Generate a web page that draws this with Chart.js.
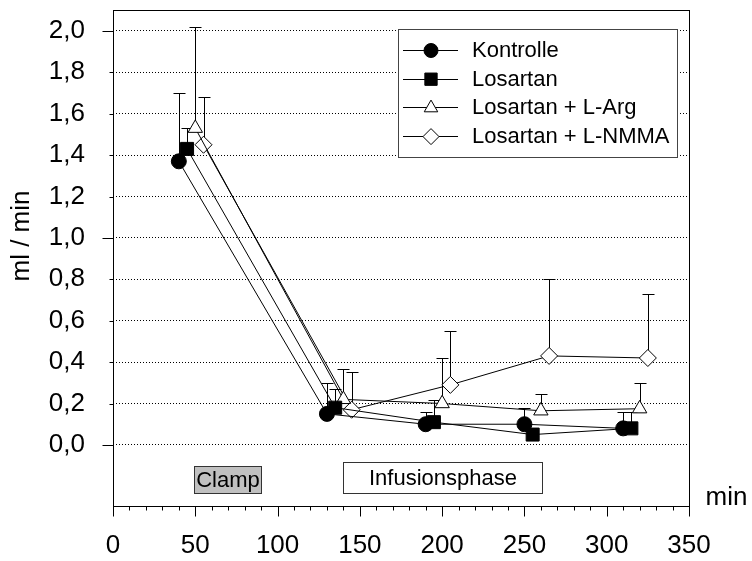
<!DOCTYPE html>
<html>
<head>
<meta charset="utf-8">
<script src="https://cdn.jsdelivr.net/npm/chart.js@4.4.1/dist/chart.umd.min.js"></script>
<style>
  body { margin: 0; background: #fff; }
  canvas { display: block; }
</style>
</head>
<body>
<canvas id="urineChart" width="752" height="561"></canvas>
<script>
// time points (min), shifted a bit per group so the markers don't overlap
const xKontrolle = [40, 130, 190, 250, 310];
const xLosartan = [45, 135, 195, 255, 315];
const xLArg = [50, 140, 200, 260, 320];
const xLNMMA = [55, 145, 205, 265, 325];

// mean values (ml / min)
const yKontrolle = [1.37, 0.15, 0.10, 0.10, 0.08];
const yLosartan = [1.43, 0.18, 0.11, 0.05, 0.08];
const yLArg = [1.53, 0.22, 0.20, 0.165, 0.175];
const yLNMMA = [1.45, 0.17, 0.29, 0.43, 0.42];

// upper error (SD)
const sdKontrolle = [0.33, 0.15, 0.06, 0.08, 0.08];
const sdLosartan = [0.10, 0.09, 0.105, 0, 0.08];
const sdLArg = [0.49, 0.145, 0.22, 0.08, 0.125];
const sdLNMMA = [0.23, 0.18, 0.26, 0.37, 0.31];

const labels = ['Kontrolle', 'Losartan', 'Losartan + L-Arg', 'Losartan + L-NMMA'];
const yTickValues = [0, 0.2, 0.4, 0.6, 0.8, 1.0, 1.2, 1.4, 1.6, 1.8, 2.0];
const xTickValues = [0, 50, 100, 150, 200, 250, 300, 350];

const FONT = '"Liberation Sans", Arial, sans-serif';

function pts(xs, ys) {
  return xs.map((x, i) => ({ x: x, y: ys[i] }));
}

function makeSet(label, xs, ys, sd, style, radius, fill) {
  return {
    label: label,
    data: pts(xs, ys),
    errors: sd,
    borderColor: '#000',
    borderWidth: 1,
    pointStyle: style,
    pointRadius: radius,
    pointHoverRadius: radius,
    pointBackgroundColor: fill,
    pointBorderColor: '#000',
    pointBorderWidth: 1,
    tension: 0,
    fill: false
  };
}

// error bars (upward only), drawn under the markers
const errorBars = {
  id: 'errorBars',
  beforeDatasetsDraw(chart) {
    const ctx = chart.ctx;
    const ys = chart.scales.y;
    ctx.save();
    ctx.strokeStyle = '#000';
    ctx.lineWidth = 1;
    chart.data.datasets.forEach((ds, di) => {
      const meta = chart.getDatasetMeta(di);
      meta.data.forEach((pt, i) => {
        const sd = ds.errors[i];
        if (!sd) return;
        const x = Math.round(pt.x) + 0.5;
        const top = Math.round(ys.getPixelForValue(ds.data[i].y + sd)) + 0.5;
        ctx.beginPath();
        ctx.moveTo(x, pt.y);
        ctx.lineTo(x, top);
        ctx.moveTo(x - 6, top);
        ctx.lineTo(x + 6, top);
        ctx.stroke();
      });
    });
    ctx.restore();
  }
};

// frame, minor/major ticks, phase boxes, legend, axis titles
const decorations = {
  id: 'decorations',
  afterDraw(chart) {
    const ctx = chart.ctx;
    const xs = chart.scales.x;
    const ys = chart.scales.y;
    const a = chart.chartArea;
    const L = Math.round(a.left) + 0.5, R = Math.round(a.right) + 0.5;
    const T = Math.round(a.top) + 0.5, B = Math.round(a.bottom) + 0.5;
    ctx.save();
    ctx.strokeStyle = '#000';
    ctx.lineWidth = 1;
    ctx.strokeRect(L, T, R - L, B - T);

    // x ticks every 10, long ones every 50
    for (let v = 0; v <= 350; v += 10) {
      const px = Math.round(xs.getPixelForValue(v)) + 0.5;
      const len = v % 50 === 0 ? 10 : 4;
      ctx.beginPath();
      ctx.moveTo(px, B);
      ctx.lineTo(px, B + len);
      ctx.stroke();
    }
    // y ticks every 0.2, long ones at whole numbers
    yTickValues.forEach(v => {
      const py = Math.round(ys.getPixelForValue(v)) + 0.5;
      const len = Math.abs(v - Math.round(v)) < 1e-6 ? 11 : 4;
      ctx.beginPath();
      ctx.moveTo(L - len, py);
      ctx.lineTo(L, py);
      ctx.stroke();
    });

    // phase boxes
    function phaseBox(x0, x1, y0, y1, text, fill) {
      const px0 = Math.round(xs.getPixelForValue(x0)) + 0.5;
      const px1 = Math.round(xs.getPixelForValue(x1)) + 0.5;
      const py0 = Math.round(ys.getPixelForValue(y0)) + 0.5;
      const py1 = Math.round(ys.getPixelForValue(y1)) + 0.5;
      ctx.fillStyle = fill;
      ctx.fillRect(px0, py0, px1 - px0, py1 - py0);
      ctx.strokeStyle = '#333';
      ctx.strokeRect(px0, py0, px1 - px0, py1 - py0);
      ctx.fillStyle = '#000';
      ctx.font = '22px ' + FONT;
      ctx.textAlign = 'center';
      ctx.textBaseline = 'middle';
      ctx.fillText(text, (px0 + px1) / 2, (py0 + py1) / 2 + 1);
    }
    phaseBox(49, 90, -0.10, -0.232, 'Clamp', '#c0c0c0');
    phaseBox(140, 260.5, -0.082, -0.232, 'Infusionsphase', '#fff');

    // axis titles
    ctx.fillStyle = '#000';
    ctx.font = '26px ' + FONT;
    ctx.textAlign = 'left';
    ctx.textBaseline = 'alphabetic';
    ctx.fillText('min', R + 16, B - 2);

    ctx.save();
    ctx.translate(21.5, 236);
    ctx.rotate(-Math.PI / 2);
    ctx.textAlign = 'center';
    ctx.textBaseline = 'middle';
    ctx.fillText('ml / min', 0, 0);
    ctx.restore();

    // legend
    const lx = 398.5, ly = 29.5, lw = 279, lh = 128;
    ctx.fillStyle = '#fff';
    ctx.fillRect(lx, ly, lw, lh);
    ctx.strokeStyle = '#444';
    ctx.strokeRect(lx, ly, lw, lh);
    chart.data.datasets.forEach((ds, i) => {
      const cy = 50 + i * 28.7;
      ctx.strokeStyle = '#000';
      ctx.lineWidth = 1;
      ctx.beginPath();
      ctx.moveTo(403, Math.round(cy) + 0.5);
      ctx.lineTo(458, Math.round(cy) + 0.5);
      ctx.stroke();
      ctx.fillStyle = ds.pointBackgroundColor;
      Chart.helpers.drawPoint(ctx, {
        pointStyle: ds.pointStyle,
        radius: ds.pointRadius - 0.5,
        borderWidth: 1,
        rotation: 0
      }, 431, cy + 0.5);
      ctx.fillStyle = '#000';
      ctx.font = '22px ' + FONT;
      ctx.textAlign = 'left';
      ctx.textBaseline = 'middle';
      ctx.fillText(ds.label, 472, cy + 1);
    });
    ctx.restore();
  }
};

const ctx = document.getElementById('urineChart').getContext('2d');
const urineChart = new Chart(ctx, {
  type: 'line',
  data: {
    datasets: [
      makeSet(labels[0], xKontrolle, yKontrolle, sdKontrolle, 'circle', 7.5, '#000'),
      makeSet(labels[1], xLosartan, yLosartan, sdLosartan, 'rect', 9.2, '#000'),
      makeSet(labels[2], xLArg, yLArg, sdLArg, 'triangle', 8.3, '#fff'),
      makeSet(labels[3], xLNMMA, yLNMMA, sdLNMMA, 'rectRot', 8.5, '#fff')
    ]
  },
  options: {
    responsive: false,
    devicePixelRatio: 1,
    animation: false,
    events: [],
    layout: { padding: { top: 10, right: 63, left: 0, bottom: 0 } },
    plugins: {
      legend: { display: false },
      tooltip: { enabled: false }
    },
    scales: {
      x: {
        type: 'linear',
        min: 0,
        max: 350,
        afterBuildTicks: s => { s.ticks = xTickValues.map(v => ({ value: v })); },
        afterFit: s => { s.height = 55; s.paddingLeft = 0; s.paddingRight = 0; },
        grid: { display: false, drawTicks: false },
        border: { display: false },
        ticks: {
          color: '#000',
          font: { family: FONT, size: 26 },
          padding: 24,
          maxRotation: 0,
          autoSkip: false
        }
      },
      y: {
        type: 'linear',
        min: -0.295,
        max: 2.1,
        afterBuildTicks: s => { s.ticks = yTickValues.map(v => ({ value: v })); },
        afterFit: s => { s.width = 113; s.paddingTop = 0; s.paddingBottom = 0; },
        grid: { color: '#000', lineWidth: 1, drawTicks: false },
        border: { display: false, dash: [1, 2] },
        ticks: {
          color: '#000',
          font: { family: FONT, size: 26 },
          padding: 28,
          autoSkip: false,
          callback: v => v.toFixed(1).replace('.', ',')
        }
      }
    }
  },
  plugins: [errorBars, decorations]
});
</script>
</body>
</html>
